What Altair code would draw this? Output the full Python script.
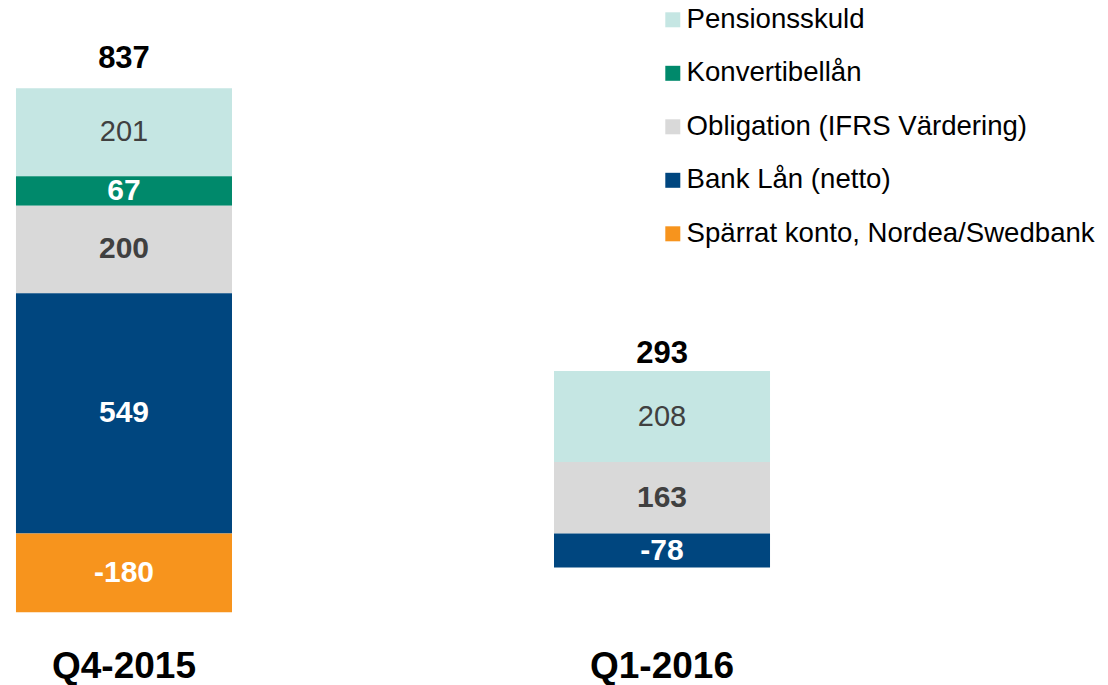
import altair as alt
import pandas as pd

FONT = "Liberation Sans"

periods = ["Q4-2015", "Q1-2016"]
series = [
    "Pensionsskuld",
    "Konvertibellån",
    "Obligation (IFRS Värdering)",
    "Bank Lån (netto)",
    "Spärrat konto, Nordea/Swedbank",
]
q4_values = [201, 67, 200, 549, -180]
q1_values = [208, None, 163, -78, None]
colors = ["#C5E6E3", "#00896B", "#D9D9D9", "#00467F", "#F7941D"]

rows = []
for p, vals in zip(periods, [q4_values, q1_values]):
    for i, (s, v) in enumerate(zip(series, vals)):
        if v is None:
            continue
        rows.append({"period": p, "series": s, "value": v,
                     "order": len(series) - 1 - i, "label": str(v)})
df = pd.DataFrame(rows)

stacked = alt.Chart(df).transform_stack(
    stack="value", groupby=["period"],
    sort=[alt.SortField("order", order="ascending")],
    as_=["v0", "v1"],
).transform_calculate(mid="(datum.v0 + datum.v1) / 2")

x = alt.X(
    "period:N", sort=periods,
    scale=alt.Scale(paddingInner=0.5985, paddingOuter=0.0297),
    axis=alt.Axis(title=None, domain=False, ticks=False, tickSize=0, labelAngle=0,
                  labelFont=FONT, labelFontSize=37, labelFontWeight="bold",
                  labelColor="black", labelPadding=27, grid=False),
)
yscale = alt.Scale(domain=[-200, 1100], nice=False, zero=False)

bars = stacked.mark_bar().encode(
    x=x,
    y=alt.Y("v0:Q", scale=yscale, axis=None),
    y2="v1:Q",
    color=alt.Color(
        "series:N",
        scale=alt.Scale(domain=series, range=colors),
        legend=alt.Legend(
            title=None, orient="none", legendX=659, legendY=-46,
            symbolType="square", symbolSize=225, symbolStrokeWidth=0,
            symbolOpacity=1, labelFont=FONT, labelFontSize=27.6,
            labelColor="black", labelLimit=600, rowPadding=24.5,
            labelOffset=0, padding=0,
        ),
    ),
)

pension_text = stacked.transform_filter(
    alt.datum.series == "Pensionsskuld"
).mark_text(font=FONT, fontSize=29, fontWeight="normal", color="#404040",
            baseline="middle").encode(
    x=x, y=alt.Y("mid:Q", scale=yscale), text="label:N"
)

other_text = stacked.transform_filter(
    alt.datum.series != "Pensionsskuld"
).mark_text(font=FONT, fontSize=30, fontWeight="bold", baseline="middle").encode(
    x=x, y=alt.Y("mid:Q", scale=yscale), text="label:N",
    color=alt.condition("datum.series == 'Obligation (IFRS Värdering)'",
                        alt.value("#404040"), alt.value("white")),
)

totals = stacked.transform_aggregate(
    total="sum(value)", top="max(v1)", groupby=["period"]
).transform_calculate(tlabel="'' + datum.total")

total_q4 = totals.transform_filter(alt.datum.period == "Q4-2015").mark_text(
    font=FONT, fontSize=31, fontWeight="bold", color="black",
    baseline="alphabetic", dy=-20
).encode(x=x, y=alt.Y("top:Q", scale=yscale), text="tlabel:N")

total_q1 = totals.transform_filter(alt.datum.period == "Q1-2016").mark_text(
    font=FONT, fontSize=31, fontWeight="bold", color="black",
    baseline="alphabetic", dy=-8
).encode(x=x, y=alt.Y("top:Q", scale=yscale), text="tlabel:N")

chart = alt.layer(bars, pension_text, other_text, total_q4, total_q1).properties(
    width=786, height=569,
    background="white",
    autosize=alt.AutoSizeParams(type="none"),
    padding={"left": 0, "top": 52, "right": 322, "bottom": 64},
).configure_view(stroke=None)

chart.save("out.html", embed_options={"renderer": "svg", "actions": False})
